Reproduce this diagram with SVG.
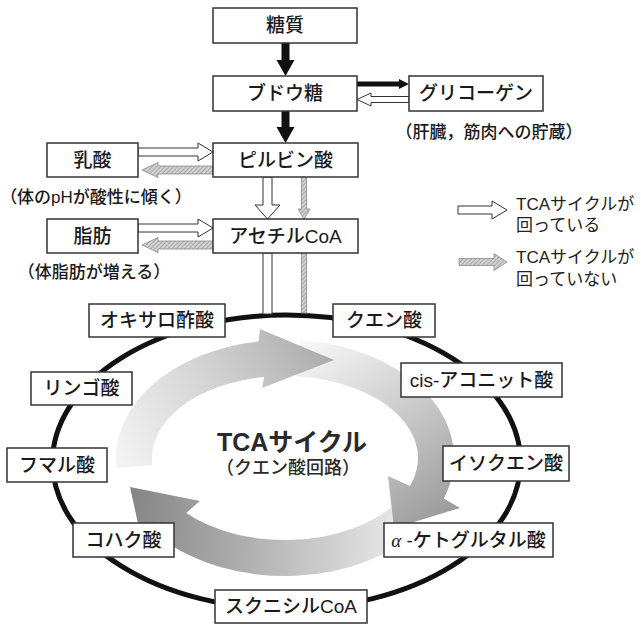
<svg xmlns="http://www.w3.org/2000/svg" width="641" height="625" viewBox="0 0 641 625">
<style>
text{font-family:"Liberation Sans","Noto Sans CJK JP",sans-serif;fill:#1a1a1a}
.lbl{font-size:19px;font-weight:500;text-anchor:middle;dominant-baseline:central}
.note{font-size:17px;font-weight:500;text-anchor:middle;dominant-baseline:central}
.leg{font-size:17px;dominant-baseline:central;fill:#222}
.box{fill:#fff;stroke:#333;stroke-width:1.5}
.wa{fill:#fff;stroke:#333;stroke-width:1}
.ga{fill:url(#hatch);stroke:#8a8a8a;stroke-width:0.8}
.ba{fill:#111;stroke:none}
</style>
<defs>
<pattern id="hatch" patternUnits="userSpaceOnUse" width="3" height="3" patternTransform="rotate(45)">
<rect width="3" height="3" fill="#d2d2d2"/>
<line x1="0" y1="0" x2="0" y2="3" stroke="#8c8c8c" stroke-width="1.2"/>
</pattern>
<linearGradient id="gTop" gradientUnits="userSpaceOnUse" x1="120" y1="470" x2="330" y2="355">
<stop offset="0" stop-color="#f4f4f4"/>
<stop offset="0.5" stop-color="#d4d4d4"/>
<stop offset="1" stop-color="#acacac"/>
</linearGradient>
<linearGradient id="gRight" gradientUnits="userSpaceOnUse" x1="300" y1="350" x2="420" y2="525">
<stop offset="0" stop-color="#f6f6f6"/>
<stop offset="0.55" stop-color="#c8c8c8"/>
<stop offset="1" stop-color="#9e9e9e"/>
</linearGradient>
<linearGradient id="gBot" gradientUnits="userSpaceOnUse" x1="420" y1="525" x2="135" y2="515">
<stop offset="0" stop-color="#f0f0f0"/>
<stop offset="0.6" stop-color="#b0b0b0"/>
<stop offset="1" stop-color="#878787"/>
</linearGradient>
</defs>

<g id="cycle-ring">
<ellipse cx="286.5" cy="462" rx="234" ry="147" fill="none" stroke="#111" stroke-width="5"/>
</g>

<g id="cycle-arrows">
<path d="M423.4,525.7 A169,118 0 0 1 159.4,537 L144,551 L130,487 L200,501 L186.2,512.9 A133,82 0 0 0 394,505 Z" fill="url(#gBot)"/>
<path d="M299.7,340.4 A169,118 0 0 1 443.8,498.4 L460,508 L394,528 L388,476 L410,486 A133,82 0 0 0 296.6,376.3 Z" fill="url(#gRight)"/>
<path d="M116.6,468.3 A169,118 0 0 1 258.6,341.5 L260,329 L334,360 L262,388 L264.2,377 A133,82 0 0 0 152.5,465.1 Z" fill="url(#gTop)"/>
<text x="292" y="442" style="font-size:25px;font-weight:bold;text-anchor:middle;dominant-baseline:central;fill:#2a2a2a">TCAサイクル</text>
<text x="288" y="468" class="lbl" style="font-size:18px;fill:#2a2a2a">（クエン酸回路）</text>
</g>

<g id="connectors">
<path class="ba" d="M281.5,43 V60 H276.5 L285.5,76 L294.5,60 H289.5 V43 Z"/>
<path class="ba" d="M281.5,111 V127 H276.5 L285.5,143 L294.5,127 H289.5 V111 Z"/>
<path class="ba" d="M357,81.5 H399 V79 L409,84 L399,89 V86.5 H357 Z"/>
<path class="wa" d="M409,96.5 H371 V93 L357,99.5 L371,106 V102.5 H409 Z"/>
<path class="wa" d="M138,148 H198 V143 L213,152 L198,161 V156 H138 Z"/>
<path class="ga" d="M213,166 H158 V162.5 L142,170 L158,177.5 V174 H213 Z"/>
<path class="wa" d="M138,224 H198 V219 L213,228 L198,237 V232 H138 Z"/>
<path class="ga" d="M213,241 H158 V237.5 L142,245 L158,252.5 V249 H213 Z"/>
<path class="wa" d="M263,177 V205 H255 L267.5,219 L280,205 H272 V177 Z"/>
<path class="ga" d="M301.5,177 V209 H298 L304,219 L310,209 H306.5 V177 Z"/>
<rect class="wa" x="263" y="253" width="9" height="61"/>
<rect class="ga" x="301.5" y="253" width="5" height="60"/>
</g>

<g id="n-toushitsu"><rect class="box" x="213" y="8" width="144" height="35"/><text class="lbl" x="285" y="25.5">糖質</text></g>
<g id="n-budoutou"><rect class="box" x="213" y="76" width="144" height="35"/><text class="lbl" x="285" y="93.5">ブドウ糖</text></g>
<g id="n-glycogen"><rect class="box" x="409" y="76" width="134" height="35"/><text class="lbl" x="476" y="93.5">グリコーゲン</text></g>
<g id="n-nyusan"><rect class="box" x="47" y="143" width="91" height="34"/><text class="lbl" x="92.5" y="160">乳酸</text></g>
<g id="n-pyruvate"><rect class="box" x="213" y="143" width="145" height="34"/><text class="lbl" x="285.5" y="160">ピルビン酸</text></g>
<g id="n-shibou"><rect class="box" x="47" y="219" width="91" height="34"/><text class="lbl" x="92.5" y="236">脂肪</text></g>
<g id="n-acetylcoa"><rect class="box" x="213" y="219" width="145" height="34"/><text class="lbl" x="285.5" y="236">アセチルCoA</text></g>

<g id="notes">
<text class="note" x="489" y="132">（肝臓，筋肉への貯蔵）</text>
<text class="note" x="96" y="197">（体のpHが酸性に傾く）</text>
<text class="note" x="94" y="272">（体脂肪が増える）</text>
</g>

<g id="legend">
<path class="wa" d="M458,206 H492 V201 L507,210 L492,219 V214 H458 Z"/>
<text class="leg" x="516" y="204">TCAサイクルが</text>
<text class="leg" x="516" y="225">回っている</text>
<path class="ga" d="M459,258.5 H494 V253.5 L507,262 L494,270.5 V265.5 H459 Z"/>
<text class="leg" x="516" y="257">TCAサイクルが</text>
<text class="leg" x="516" y="279">回っていない</text>
</g>

<g id="n-oxaloacetate"><rect class="box" x="89" y="304" width="136" height="33"/><text class="lbl" x="157" y="320.5">オキサロ酢酸</text></g>
<g id="n-citrate"><rect class="box" x="333" y="304" width="102" height="33"/><text class="lbl" x="384" y="320.5">クエン酸</text></g>
<g id="n-cisaconitate"><rect class="box" x="401" y="363" width="161" height="34"/><text class="lbl" x="481.5" y="380">cis-アコニット酸</text></g>
<g id="n-isocitrate"><rect class="box" x="443" y="446" width="126" height="35"/><text class="lbl" x="506" y="463.5">イソクエン酸</text></g>
<g id="n-aketoglutarate"><rect class="box" x="384" y="523" width="169" height="34"/><text class="lbl" x="468.5" y="540"><tspan style="font-family:'Liberation Serif',serif;font-style:italic">α</tspan> -ケトグルタル酸</text></g>
<g id="n-succinylcoa"><rect class="box" x="215" y="590" width="152" height="33"/><text class="lbl" x="291" y="606.5">スクニシルCoA</text></g>
<g id="n-succinate"><rect class="box" x="73" y="523" width="101" height="34"/><text class="lbl" x="123.5" y="540">コハク酸</text></g>
<g id="n-fumarate"><rect class="box" x="7" y="448" width="100" height="34"/><text class="lbl" x="57" y="465">フマル酸</text></g>
<g id="n-malate"><rect class="box" x="31" y="372" width="101" height="33"/><text class="lbl" x="81.5" y="388.5">リンゴ酸</text></g>
</svg>
